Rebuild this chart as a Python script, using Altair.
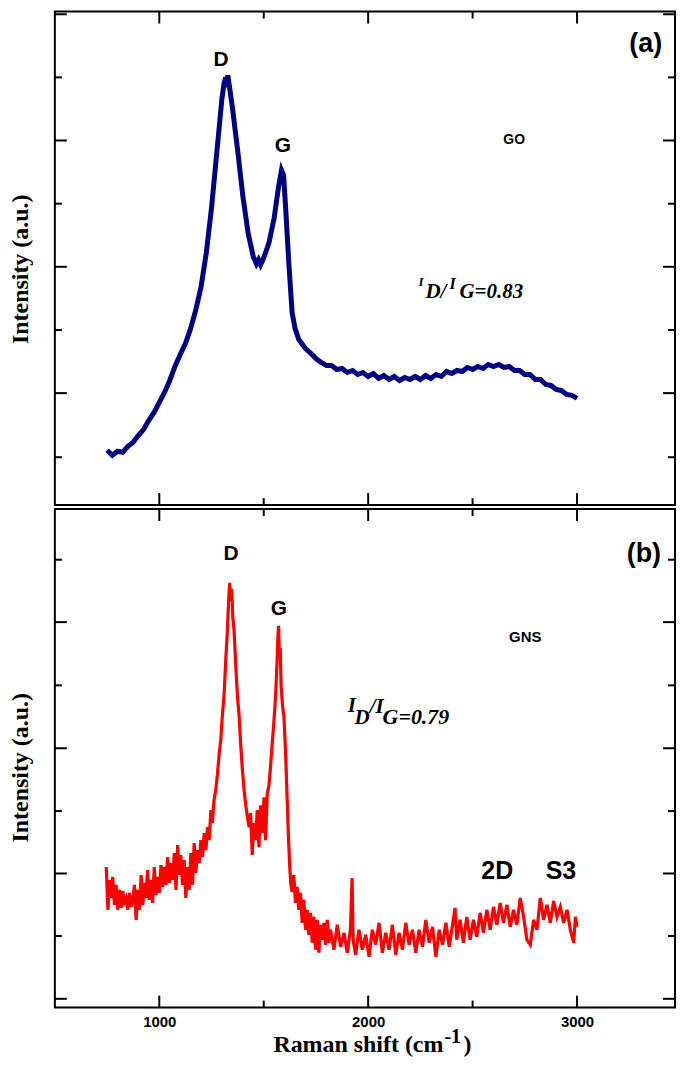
import altair as alt
import pandas as pd

# ---------------- data (Raman shift in cm-1, intensity in a.u.) ----------------
go_x = [750, 775, 800, 825, 850, 875, 900, 925, 950, 975,
        1000, 1025, 1050, 1075, 1100, 1125, 1150, 1175, 1200, 1225,
        1250, 1275, 1300, 1310, 1318, 1322, 1328, 1335, 1350, 1375,
        1400, 1425, 1450, 1465, 1475, 1485, 1500, 1525, 1550, 1570,
        1585, 1595, 1605, 1620, 1636, 1650, 1668, 1700, 1732, 1750,
        1775, 1800, 1825, 1850, 1875, 1900, 1925, 1950, 1975, 2000,
        2025, 2050, 2075, 2100, 2125, 2150, 2175, 2200, 2225, 2250,
        2275, 2300, 2325, 2350, 2375, 2400, 2425, 2450, 2475, 2500,
        2525, 2550, 2575, 2600, 2625, 2650, 2675, 2700, 2725, 2750,
        2775, 2800, 2825, 2850, 2875, 2900, 2925, 2950, 2975, 3000]
go_y = [57, 52, 56, 55, 61, 65, 72, 78, 87, 95,
        105, 115, 127, 141, 153, 164, 179, 198, 221, 255,
        300, 355, 410, 425, 431, 421, 433, 423, 401, 358,
        312, 275, 251, 244, 248, 243, 250, 265, 290, 320,
        338, 333, 300, 245, 195, 179, 168, 159, 153, 149,
        145, 142, 142, 138, 139, 135, 137, 133, 135, 131,
        134, 129, 132, 128, 131, 127, 130, 128, 131, 128,
        132, 129, 133, 131, 136, 134, 137, 136, 140, 138,
        141, 139, 143, 141, 143, 140, 141, 137, 137, 133,
        133, 128, 128, 123, 122, 118, 117, 113, 112, 109]

gns_x = [746, 754, 762, 770, 777, 785, 793, 801, 809, 817,
         825, 833, 841, 849, 857, 865, 873, 881, 889, 897,
         905, 913, 921, 928, 936, 944, 952, 960, 968, 976,
         984, 992, 1000, 1008, 1016, 1024, 1032, 1040, 1048, 1056,
         1064, 1072, 1080, 1088, 1095, 1103, 1111, 1119, 1127, 1135,
         1143, 1151, 1159, 1167, 1175, 1183, 1191, 1199, 1207, 1215,
         1223, 1231, 1239, 1247, 1254, 1262, 1270, 1278, 1286, 1294,
         1302, 1310, 1318, 1326, 1332, 1337, 1342, 1347, 1352, 1358,
         1366, 1374, 1382, 1390, 1398, 1406, 1414, 1422, 1430, 1437,
         1445, 1453, 1461, 1469, 1477, 1485, 1493, 1501, 1509, 1517,
         1525, 1533, 1541, 1549, 1557, 1563, 1568, 1571, 1575, 1579,
         1583, 1590, 1597, 1605, 1612, 1618, 1624, 1630, 1636, 1644,
         1652, 1660, 1668, 1676, 1684, 1692, 1700, 1708, 1716, 1724,
         1732, 1740, 1748, 1756, 1764, 1772, 1780, 1788, 1796, 1804,
         1812, 1820, 1836, 1852, 1868, 1884, 1900, 1915, 1923, 1928,
         1940, 1956, 1972, 1988, 2004, 2020, 2036, 2052, 2068, 2084,
         2100, 2116, 2132, 2148, 2164, 2180, 2196, 2212, 2228, 2244,
         2260, 2276, 2292, 2308, 2324, 2340, 2356, 2372, 2388, 2404,
         2416, 2424, 2440, 2456, 2472, 2488, 2504, 2520, 2536, 2552,
         2568, 2584, 2600, 2616, 2632, 2648, 2664, 2680, 2696, 2712,
         2728, 2744, 2760, 2776, 2792, 2808, 2824, 2840, 2856, 2872,
         2888, 2904, 2920, 2936, 2952, 2968, 2984, 2992, 3000]
gns_y = [148, 105, 135, 117, 138, 110, 130, 105, 125, 107,
         124, 113, 117, 105, 122, 108, 115, 130, 95, 125,
         105, 140, 110, 132, 117, 145, 115, 135, 112, 148,
         120, 138, 122, 150, 128, 148, 130, 158, 132, 152,
         135, 162, 125, 170, 140, 160, 130, 155, 117, 148,
         125, 162, 130, 172, 142, 165, 152, 175, 158, 182,
         165, 188, 175, 205, 192, 215, 225, 240, 260, 275,
         300, 320, 355, 385, 415, 433, 415, 427, 398, 385,
         350, 320, 300, 270, 245, 225, 210, 198, 188, 202,
         160, 192, 175, 205, 168, 210, 182, 218, 175, 222,
         230, 250, 273, 295, 320, 350, 380, 390, 360, 368,
         330, 310, 298, 260, 217, 180, 150, 130, 123, 140,
         112, 128, 105, 122, 92, 115, 85, 105, 80, 102,
         72, 98, 65, 95, 62, 90, 75, 92, 70, 95,
         72, 85, 65, 90, 68, 82, 62, 85, 137, 75,
         60, 85, 65, 80, 58, 85, 70, 92, 62, 82,
         65, 90, 60, 82, 65, 92, 70, 85, 62, 85,
         68, 95, 72, 88, 58, 85, 70, 92, 68, 90,
         107, 75, 95, 72, 98, 75, 95, 78, 102, 82,
         105, 85, 108, 90, 112, 92, 110, 88, 105, 90,
         117, 98, 75, 70, 95, 85, 117, 95, 110, 92,
         114, 98, 108, 92, 105, 85, 72, 98, 88]

# axis ticks
x_major = [1000, 2000, 3000]
x_minor = [1500, 2500]
top_major = [114.3, 241.0, 367.7, 494.3]
top_minor = [50.0, 177.6, 304.3, 431.0]
bot_major = [15.8, 141.5, 267.1, 393.6]
bot_minor = [78.8, 204.1, 330.2, 456.2]

# annotations
top_lbl_text = ["D", "G", "(a)", "GO"]
top_lbl_x = [1296, 1592, 3329, 2699]
top_lbl_y = [448, 362, 464, 368]
top_lbl_size = [21, 21, 27, 14]

bot_lbl_text = ["D", "G", "(b)", "GNS", "2D", "S3"]
bot_lbl_x = [1344, 1573, 3320, 2752, 2618, 2923]
bot_lbl_y = [462, 407, 462, 379, 144, 144]
bot_lbl_size = [21, 21, 27, 15, 25, 25]

ratio_a_text = ["I", "D/", "I", "G=0.83"]
ratio_a_x = [2241, 2274, 2389, 2437]
ratio_a_y = [222, 210, 219, 210]
ratio_a_size = [13, 21, 16, 21]

ratio_b_text = ["I", "D", "/I", "G=0.79"]
ratio_b_x = [1902, 1935, 2007, 2069]
ratio_b_y = [303, 291, 302, 291]
ratio_b_size = [21, 21, 21, 22]

# ---------------- layout ----------------
W = 622
H_TOP = 495
H_BOT = 500
xscale = alt.Scale(domain=[500, 3469], nice=False, zero=False)
ytop = alt.Scale(domain=[2, 497], nice=False, zero=False)
ybot = alt.Scale(domain=[7, 507], nice=False, zero=False)


def y_axis(title_y):
    return alt.Axis(title="Intensity (a.u.)", labels=False, ticks=False, domain=False,
                    grid=False, titleFont="Liberation Serif", titleFontSize=24,
                    titleFontWeight="bold", titlePadding=22, titleColor="black",
                    titleY=title_y)


x_axis_bottom = alt.Axis(values=x_major, format="d", labelFont="Liberation Sans",
                         labelFontWeight="bold", labelFontSize=15, labelColor="black",
                         ticks=False, tickSize=0, domain=False, grid=False,
                         title=None, labelPadding=7)


def X(field, xax):
    if xax is None:
        return alt.X(field, scale=xscale, axis=None)
    return alt.X(field, scale=xscale, axis=xax)


def tick_layers(yscale, yax, xax, H, ymaj, ymin):
    layers = []
    for vals, L in ((ymaj, 12), (ymin, 7)):
        base = alt.Chart(pd.DataFrame({"v": vals})).mark_rule(color="black", strokeWidth=2)
        layers.append(base.encode(y=alt.Y("v:Q", scale=yscale, axis=yax),
                                  x=alt.value(0), x2=alt.value(L)))
        layers.append(base.encode(y=alt.Y("v:Q", scale=yscale, axis=yax),
                                  x=alt.value(W), x2=alt.value(W - L)))
    for vals, L in ((x_major, 12), (x_minor, 7)):
        base = alt.Chart(pd.DataFrame({"v": vals})).mark_rule(color="black", strokeWidth=2)
        layers.append(base.encode(x=X("v:Q", xax), y=alt.value(0), y2=alt.value(L)))
        layers.append(base.encode(x=X("v:Q", xax), y=alt.value(H), y2=alt.value(H - L)))
    return layers


def label_layer(texts, xs, ys, sizes, yscale, yax, xax):
    df = pd.DataFrame({"t": texts, "x": xs, "y": ys, "s": sizes})
    return alt.Chart(df).mark_text(font="Liberation Sans", fontWeight="bold",
                                   align="center", baseline="middle", color="black").encode(
        x=X("x:Q", xax),
        y=alt.Y("y:Q", scale=yscale, axis=yax),
        text="t:N",
        size=alt.Size("s:Q", scale=None, legend=None))


def ratio_layer(texts, xs, ys, sizes, yscale, yax, xax):
    df = pd.DataFrame({"t": texts, "x": xs, "y": ys, "s": sizes})
    return alt.Chart(df).mark_text(font="Liberation Serif", fontWeight="bold",
                                   fontStyle="italic", align="left",
                                   baseline="alphabetic", color="black").encode(
        x=X("x:Q", xax),
        y=alt.Y("y:Q", scale=yscale, axis=yax),
        text="t:N",
        size=alt.Size("s:Q", scale=None, legend=None))


def xtitle_piece(text, xval, align, size, ypx, xax):
    df = pd.DataFrame({"t": [text], "x": [xval]})
    return alt.Chart(df).mark_text(font="Liberation Serif", fontWeight="bold",
                                   fontSize=size, baseline="alphabetic",
                                   align=align, color="black").encode(
        x=X("x:Q", xax), y=alt.value(ypx), text="t:N")


go_df = pd.DataFrame({"x": go_x, "y": go_y})
gns_df = pd.DataFrame({"x": gns_x, "y": gns_y})

yax_top = y_axis(258)
yax_bot = y_axis(259)

go_line = alt.Chart(go_df).mark_line(color="#000080", strokeWidth=5).encode(
    x=X("x:Q", None),
    y=alt.Y("y:Q", scale=ytop, axis=yax_top))

gns_line = alt.Chart(gns_df).mark_line(color="#ff0000", strokeWidth=3.2).encode(
    x=X("x:Q", x_axis_bottom),
    y=alt.Y("y:Q", scale=ybot, axis=yax_bot))

top = alt.layer(
    go_line,
    *tick_layers(ytop, yax_top, None, H_TOP, top_major, top_minor),
    label_layer(top_lbl_text, top_lbl_x, top_lbl_y, top_lbl_size, ytop, yax_top, None),
    ratio_layer(ratio_a_text, ratio_a_x, ratio_a_y, ratio_a_size, ytop, yax_top, None),
).properties(width=W, height=H_TOP)

bottom = alt.layer(
    gns_line,
    *tick_layers(ybot, yax_bot, x_axis_bottom, H_BOT, bot_major, bot_minor),
    label_layer(bot_lbl_text, bot_lbl_x, bot_lbl_y, bot_lbl_size, ybot, yax_bot, x_axis_bottom),
    ratio_layer(ratio_b_text, ratio_b_x, ratio_b_y, ratio_b_size, ybot, yax_bot, x_axis_bottom),
    xtitle_piece("Raman shift (cm", 2360, "right", 24, H_BOT + 45, x_axis_bottom),
    xtitle_piece(")", 2456, "left", 24, H_BOT + 45, x_axis_bottom),
    xtitle_piece("-1", 2365, "left", 20, H_BOT + 36, x_axis_bottom),
).properties(width=W, height=H_BOT)

chart = alt.vconcat(top, bottom, spacing=0).properties(
    padding={"left": 0, "top": 0, "right": 0, "bottom": 0},
    background="white",
).configure_view(stroke="black", strokeWidth=2).configure_concat(spacing=0)

chart.save("out.html", embed_options={"renderer": "svg", "actions": False})
